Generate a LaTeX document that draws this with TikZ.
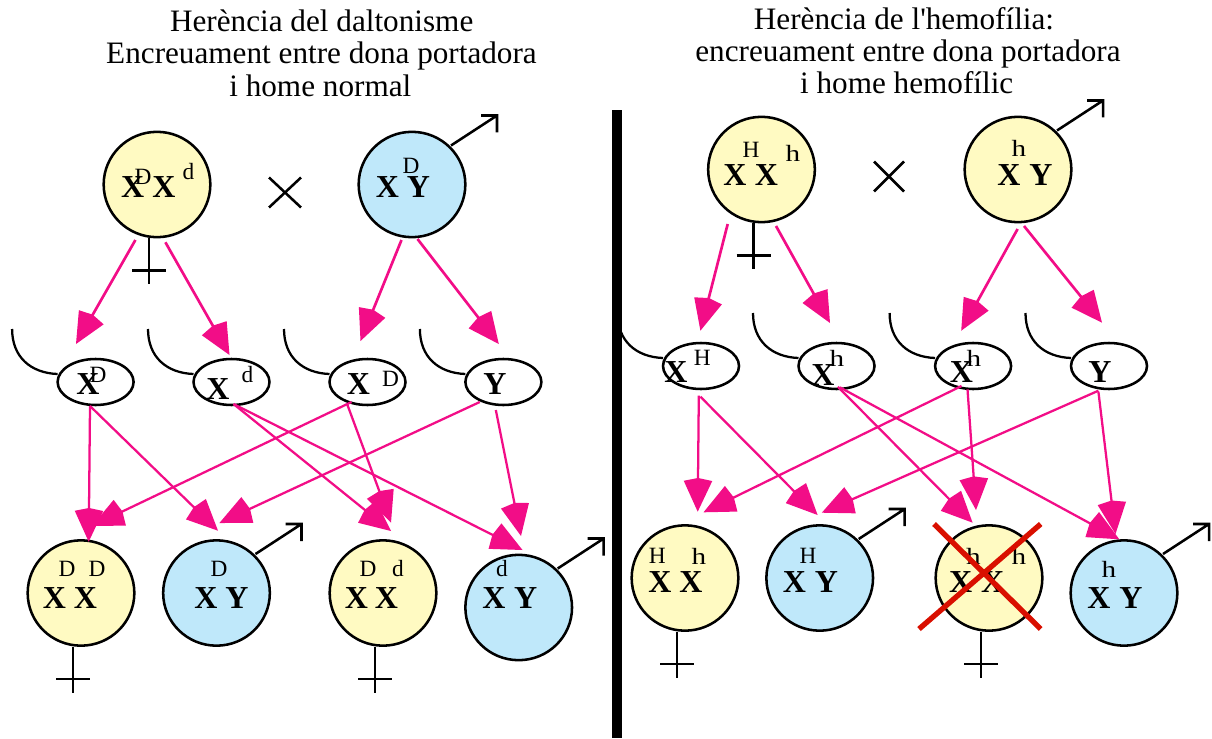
\documentclass[tikz,border=0pt]{standalone}
\usepackage{fontspec}
\setmainfont{Liberation Serif}[Ligatures=TeXOff]
\newfontfamily\stretchserif{Liberation Serif}[FakeStretch=1.25]
\usetikzlibrary{arrows.meta,calc,shapes.geometric}
\definecolor{cellyellow}{rgb}{1.0, 0.98, 0.76}
\definecolor{cellblue}{rgb}{0.75, 0.91, 0.98}
\definecolor{linkpink}{rgb}{0.95, 0.05, 0.53}
\definecolor{crossred}{rgb}{0.85, 0.06, 0.0}
\tikzset{
	femalecell/.style={ellipse,draw,line width=1.9pt,fill=cellyellow,minimum width=80pt,minimum height=79pt,inner sep=0pt},
	malecell/.style={femalecell,fill=cellblue},
	gamete/.style={ellipse,draw,fill=white,line width=1.9pt,minimum width=57pt,minimum height=34.5pt,inner sep=0pt},
	chrom/.style={inner sep=0pt,font=\fontsize{24}{24}\selectfont\bfseries},
	allele/.style={inner sep=0pt,font=\fontsize{17.5}{18}\selectfont},
	widallele/.style={inner sep=0pt,font=\fontsize{17.5}{18}\stretchserif\selectfont},
	heading/.style={inner sep=0pt,anchor=base,font=\fontsize{23.4}{24}\selectfont},
	symline/.style={line width=1.9pt},
	toparrow/.style={color=linkpink,line width=2pt,-{Kite[length=25.3pt,width=21.4pt,inset=2.2pt]}},
	lowarrow/.style={color=linkpink,line width=1.7pt,-{Kite[length=25.3pt,width=21.4pt,inset=2.2pt]}}
}
\newcommand{\malesign}[1]{\draw [symline] ($(#1)+(39,-39)$) -- ++(46,-30) ++(-16,0) -- ++(16,0) -- ++(0,17);}
\newcommand{\femalesign}[1]{\draw [symline] ($(#1.south)+(-8,0)$) -- ++(0,46) ++(-17,-14) -- ++(34,0);}
\newcommand{\gamtail}[1]{\draw [line width=1.7pt] ($(#1)+(-38,-8)$) .. controls ($(#1)+(-65,-9)$) and ($(#1)+(-83.5,-25)$) .. ($(#1)+(-83.5,-53)$);}

\begin{document}
\begin{tikzpicture}[x=0.75pt,y=0.75pt,yscale=-1,xscale=1]
	\useasboundingbox (0,0) rectangle (1212,738);

	% Text Node
	\node [heading] (titleLa) at (321.7,32) {Herència del daltonisme};
	\node [heading] (titleLb) at (321.5,64) {Encreuament entre dona portadora};
	\node [heading] (titleLc) at (320.3,96.5) {i home normal};
	\node [heading] (titleRa) at (904,30) {Herència de l'hemofília:};
	\node [heading] (titleRb) at (908,62) {encreuament entre dona portadora};
	\node [heading] (titleRc) at (906.7,94) {i home hemofílic};

	% Left cross
	\node [femalecell] (mother) at (157,184.5) {};
	\node [malecell] (father) at (412,184.5) {};
	\node [gamete] (gamA) at (95.6,382) {};
	\node [gamete] (gamB) at (231.5,382) {};
	\node [gamete] (gamC) at (367.5,382) {};
	\node [gamete] (gamD) at (503.4,382) {};
	\node [femalecell] (kidA) at (81,593) {};
	\node [malecell] (kidB) at (216.5,593) {};
	\node [femalecell] (kidC) at (383,593) {};
	\node [malecell] (kidD) at (518.7,607.5) {};

	% Right cross
	\node [femalecell] (motherR) at (761.5,169.5) {};
	\node [femalecell] (fatherR) at (1018,169.5) {};
	\node [gamete] (gamE) at (701,366) {};
	\node [gamete] (gamF) at (836.5,366) {};
	\node [gamete] (gamG) at (973.1,366) {};
	\node [gamete] (gamH) at (1109,366) {};
	\node [femalecell] (kidE) at (685,578) {};
	\node [malecell] (kidF) at (819.7,578) {};
	\node [femalecell] (kidG) at (989,578) {};
	\node [malecell] (kidH) at (1124,593) {};

	% Sex signs
	\femalesign{mother} \malesign{father}
	\femalesign{kidA} \malesign{kidB} \femalesign{kidC} \malesign{kidD}
	\femalesign{motherR} \malesign{fatherR}
	\femalesign{kidE} \malesign{kidF} \femalesign{kidG} \malesign{kidH}

	% Curved tails
	\gamtail{gamA} \gamtail{gamB} \gamtail{gamC} \gamtail{gamD}
	\gamtail{gamE} \gamtail{gamF} \gamtail{gamG} \gamtail{gamH}

	% Times signs
	\coordinate (timesL) at (285,192.5);
	\coordinate (timesR) at (889,176.5);
	\draw [symline] ($(timesL)+(-16,-15)$) -- ($(timesL)+(16,15)$) ($(timesL)+(16,-15)$) -- ($(timesL)+(-16,15)$);
	\draw [symline] ($(timesR)+(-15,-15)$) -- ($(timesR)+(15,15)$) ($(timesR)+(15,-15)$) -- ($(timesR)+(-15,15)$);

	% Left letters
	\node [chrom] (mXa) at (132.7,187) {X};
	\node [chrom] (mXb) at (164,187) {X};
	\node [allele] (mD) at (143,177) {D};
	\node [allele] (md) at (188.5,172) {d};
	\node [chrom] (fX) at (387.5,187) {X};
	\node [chrom] (fY) at (418.5,187) {Y};
	\node [allele] (fD) at (411,166) {D};
	\node [chrom] (gaX) at (88,384) {X};
	\node [allele] (gaD) at (98,375) {D};
	\node [chrom] (gbX) at (218,389) {X};
	\node [allele] (gbd) at (247.5,375) {d};
	\node [chrom] (gcX) at (358.5,384) {X};
	\node [allele] (gcD) at (390.5,379) {D};
	\node [chrom] (gdY) at (494.8,384) {Y};
	\node [allele] (kaD) at (67,569) {D};
	\node [allele] (kaE) at (97,569) {D};
	\node [chrom] (kaX) at (54.5,598) {X};
	\node [chrom] (kaW) at (85.4,598) {X};
	\node [allele] (kbD) at (219,569) {D};
	\node [chrom] (kbX) at (206,598) {X};
	\node [chrom] (kbY) at (237,598) {Y};
	\node [allele] (kcD) at (368,569) {D};
	\node [allele] (kcd) at (398,569) {d};
	\node [chrom] (kcX) at (356.5,598) {X};
	\node [chrom] (kcW) at (386.5,598) {X};
	\node [allele] (kdd) at (502,569) {d};
	\node [chrom] (kdX) at (494,598) {X};
	\node [chrom] (kdY) at (525.7,598) {Y};

	% Right letters
	\node [chrom] (nXa) at (735,175) {X};
	\node [chrom] (nXb) at (766.5,175) {X};
	\node [allele] (nH) at (751,150) {H};
	\node [widallele] (nh) at (793,153) {h};
	\node [chrom] (dX) at (1009,175) {X};
	\node [chrom] (dY) at (1041,175) {Y};
	\node [widallele] (dh) at (1019,148) {h};
	\node [chrom] (geX) at (676,371.7) {X};
	\node [allele] (geH) at (702.3,358) {H};
	\node [chrom] (gfX) at (823,375) {X};
	\node [widallele] (gfh) at (837,358) {h};
	\node [chrom] (ggX) at (961.5,371.7) {X};
	\node [widallele] (ggh) at (974,358) {h};
	\node [chrom] (ghY) at (1100,371.7) {Y};
	\node [allele] (keH) at (657.3,556) {H};
	\node [widallele] (keh) at (699,556) {h};
	\node [chrom] (keX) at (660,582.3) {X};
	\node [chrom] (keW) at (691,582.3) {X};
	\node [allele] (kfH) at (808,556) {H};
	\node [chrom] (kfX) at (794.5,582.3) {X};
	\node [chrom] (kfY) at (826.5,582.3) {Y};
	\node [widallele] (kgh) at (973.4,556) {h};
	\node [widallele] (kgi) at (1018.8,556) {h};
	\node [chrom] (kgX) at (960.7,582.3) {X};
	\node [chrom] (kgW) at (992.6,582.3) {X};
	\node [widallele] (khh) at (1109,569) {h};
	\node [chrom] (khX) at (1099,598) {X};
	\node [chrom] (khY) at (1131,598) {Y};

	% Straight Lines
	\draw [toparrow] ($(mother)+(-21.6,55.5)$) -- ($(gamA)+(-19.6,-38)$);
	\draw [toparrow] ($(mother)+(8.4,57.8)$) -- ($(gamB)+(-2,-27)$);
	\draw [toparrow] ($(father)+(-10.5,55.5)$) -- ($(gamC)+(-7,-41)$);
	\draw [toparrow] ($(father)+(5.5,54.5)$) -- ($(gamD)+(-4.6,-38)$);
	\draw [lowarrow] ($(gamA)+(-5.6,24)$) -- ($(kidA)+(7.7,-51.3)$);
	\draw [lowarrow] ($(gamA)+(-5.6,24)$) -- ($(kidB)+(1.5,-62.3)$);
	\draw [lowarrow] ($(gamB)+(2,22)$) -- ($(kidC)+(8,-62)$);
	\draw [lowarrow] ($(gamB)+(2,22)$) -- ($(kidD)+(3.8,-57.5)$);
	\draw [lowarrow] ($(gamC)+(-16,20)$) -- ($(kidA)+(11,-67)$);
	\draw [lowarrow] ($(gamC)+(-20.4,22)$) -- ($(kidC)+(8,-70.3)$);
	\draw [lowarrow] ($(gamD)+(-23.6,20)$) -- ($(kidB)+(2.9,-70)$);
	\draw [lowarrow] ($(gamD)+(-7.6,28)$) -- ($(kidD)+(2.3,-71.5)$);

	% Straight Lines
	\draw [toparrow] ($(motherR)+(-33.8,54.5)$) -- ($(gamE)+(-0.6,-35.3)$);
	\draw [toparrow] ($(motherR)+(14.5,56.5)$) -- ($(gamF)+(-6.5,-43)$);
	\draw [toparrow] ($(fatherR)+(-0.4,59.5)$) -- ($(gamG)+(-11.9,-35.3)$);
	\draw [toparrow] ($(fatherR)+(6,56.5)$) -- ($(gamH)+(-7,-43.3)$);
	\draw [lowarrow] ($(gamE)+(-2.2,29.7)$) -- ($(kidE)+(12.7,-66.3)$);
	\draw [lowarrow] ($(gamE)+(-0.6,30.7)$) -- ($(kidF)+(-2.1,-63)$);
	\draw [lowarrow] ($(gamF)+(1.3,20.7)$) -- ($(kidG)+(-16.4,-55.3)$);
	\draw [lowarrow] ($(gamF)+(3.3,21.3)$) -- ($(kidH)+(-4.7,-53.7)$);
	\draw [lowarrow] ($(gamG)+(-11.6,20)$) -- ($(kidE)+(18.5,-65.7)$);
	\draw [lowarrow] ($(gamG)+(-5.6,23.3)$) -- ($(kidG)+(-13,-68)$);
	\draw [lowarrow] ($(gamH)+(-10.6,24.7)$) -- ($(kidF)+(2.1,-65.3)$);
	\draw [lowarrow] ($(gamH)+(-10.6,25.7)$) -- ($(kidH)+(-8.5,-59)$);

	% Red cross over the lethal cell
	\draw [color=crossred,line width=4pt] ($(kidG)+(-55,-54)$) -- ($(kidG)+(51.7,51)$) ($(kidG)+(51.7,-54)$) -- ($(kidG)+(-70,51)$);

	% Panel bar
	\fill (611.5,110) rectangle (621.5,738);
\end{tikzpicture}
\end{document}
